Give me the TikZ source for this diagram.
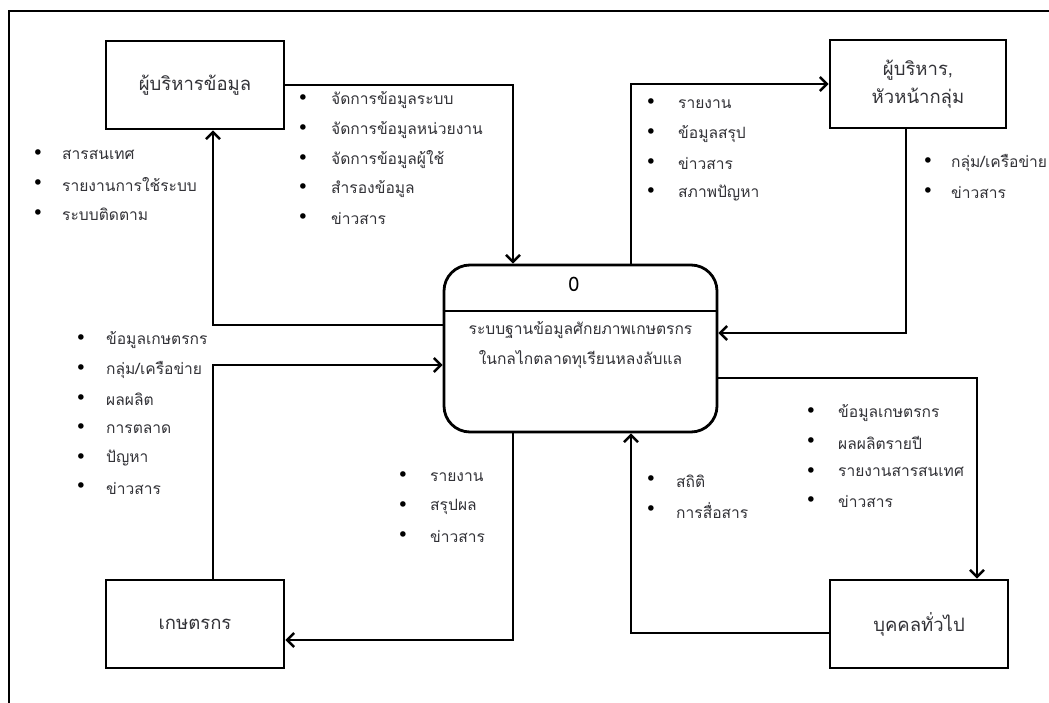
\documentclass[tikz,border=0pt]{standalone}
\usepackage{fontspec}
\setmainfont[Script=Thai]{Loma}
\newfontfamily\bulfont{DejaVu Sans}
\usetikzlibrary{arrows.meta,calc}
\definecolor{txt}{RGB}{50,50,55}
\tikzset{
  ent/.style={draw, line width=2.9pt, minimum width=178pt, minimum height=88pt, align=center, font=\fontsize{18.5}{28}\selectfont, text=txt},
  proc/.style={draw, line width=2.8pt, rounded corners=26pt, minimum width=273pt, minimum height=167pt},
  flow/.style={line width=2.6pt, -{Straight Barb[length=7pt,width=14pt,line width=2.4pt]}},
  itm/.style={anchor=west, inner sep=0pt, font=\fontsize{15.6}{18}\selectfont, text=txt},
  bul/.style={inner sep=0pt, font=\bulfont\fontsize{19}{20}\selectfont},
}
\newcommand\bitems[5]{%
  \foreach \t [count=\i from 0] in {#5} {
    \node[bul] (#1b\i) at (#2, {#4+29.6*\i}) {•};
    \node[itm] (#1t\i) at (#3, {#4+29.6*\i}) {\t};
  }}
\begin{document}
\begin{tikzpicture}[x=1pt,y=-1pt]
\useasboundingbox (0,0) rectangle (1049,703);
% outer frame
\draw[line width=2pt] (1049,11) -- (9,11) -- (9,703);

% entities
\node[ent] (A) at (195,85) {ผู้บริหารข้อมูล};
\node[ent, minimum width=176pt] (B) at (918,84) {ผู้บริหาร,\\หัวหน้ากลุ่ม};
\node[ent] (C) at (195,624) {เกษตรกร};
\node[ent] (D) at (919,624) {บุคคลทั่วไป};

% process
\node[proc] (P) at (580.5,348.5) {};
\draw[line width=1.8pt] (P.west |- 0,311) -- (P.east |- 0,311);
\node[font=\fontsize{20}{24}\selectfont] (P0) at (574,284) {0};
\node[font=\fontsize{15.6}{30}\selectfont, text=txt, align=center] (PT) at (580.5,345) {ระบบฐานข้อมูลศักยภาพเกษตรกร\\ในกลไกตลาดทุเรียนหลงลับแล};

% connectors
\draw[flow] (A.east) -| ([xshift=-67.5pt]P.north);
\draw[flow] ([yshift=23.5pt]P.west) -| ([xshift=18pt]A.south);
\draw[flow] ([xshift=50.5pt]P.north) |- (B.west);
\draw[flow] ([xshift=-12pt]B.south) |- ([yshift=15.5pt]P.east);
\draw[flow] ([xshift=18pt]C.north) |- ([yshift=-16.5pt]P.west);
\draw[flow] ([xshift=-67.5pt]P.south) |- ([yshift=-16pt]C.east);
\draw[flow] ([yshift=-29.5pt]P.east) -| ([xshift=58pt]D.north);
\draw[flow] ([yshift=-9pt]D.west) -| ([xshift=50.5pt]P.south);

% labels
\bitems{L1}{38}{62}{155}{สารสนเทศ,รายงานการใช้ระบบ,ระบบติดตาม}
\bitems{L2}{303}{331}{100}{จัดการข้อมูลระบบ,จัดการข้อมูลหน่วยงาน,จัดการข้อมูลผู้ใช้,สำรองข้อมูล,ข่าวสาร}
\bitems{L3}{651}{678}{104}{รายงาน,ข้อมูลสรุป,ข่าวสาร,สภาพปัญหา}
\bitems{L4}{928}{951}{163}{กลุ่ม/เครือข่าย,ข่าวสาร}
\bitems{L5}{81}{106}{340}{ข้อมูลเกษตรกร,กลุ่ม/เครือข่าย,ผลผลิต,การตลาด,ปัญหา,ข่าวสาร}
\bitems{L6}{403}{430}{477}{รายงาน,สรุปผล,ข่าวสาร}
\bitems{L7}{651}{676}{481}{สถิติ,การสื่อสาร}
\bitems{L8}{811}{838}{413}{ข้อมูลเกษตรกร,ผลผลิตรายปี,รายงานสารสนเทศ,ข่าวสาร}
\end{tikzpicture}
\end{document}
